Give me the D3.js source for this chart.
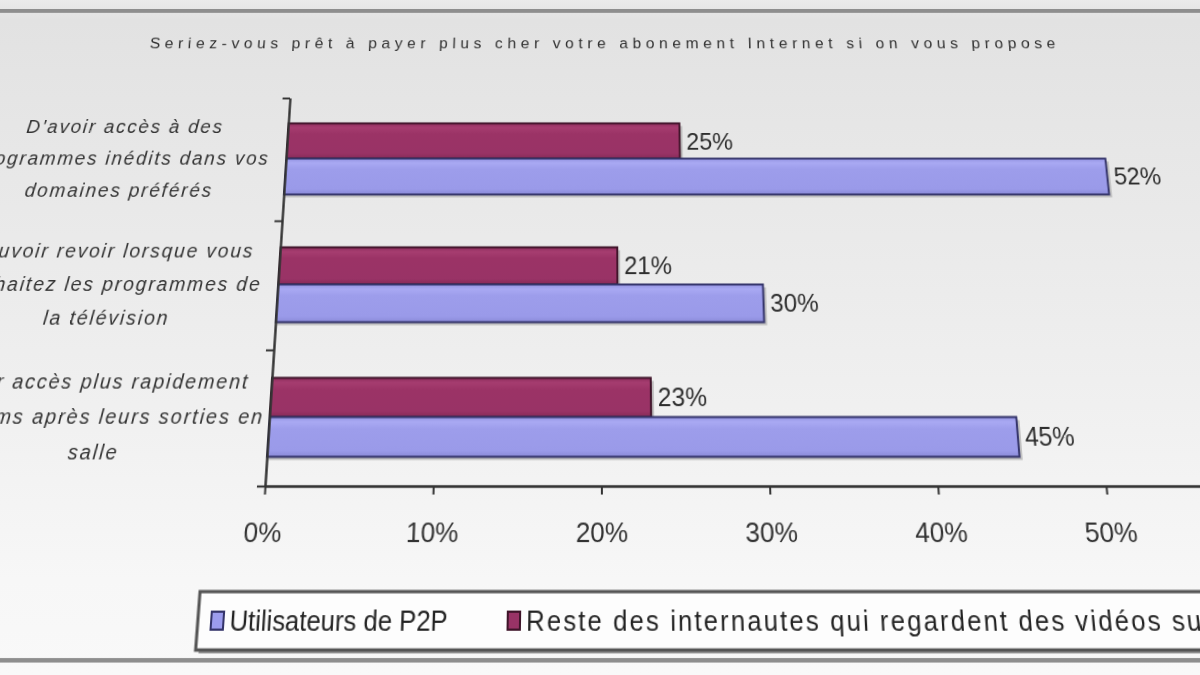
<!DOCTYPE html>
<html>
<head>
<meta charset="utf-8">
<script src="https://cdn.jsdelivr.net/npm/d3@7"></script>
<style>
html,body{margin:0;padding:0;width:1200px;height:675px;overflow:hidden;}
body{background:linear-gradient(to bottom,#ebebeb 0px,#e6e6e6 9px,#e2e2e2 20px,#e7e7e7 150px,#efefef 380px,#f7f7f7 580px,#f9f9f9 675px);}
#chart{position:absolute;left:0;top:0;transform-origin:0 0;overflow:visible;}
text{font-family:"Liberation Sans",Arial,sans-serif;}
</style>
</head>
<body>
<script>
// ---- data ----
const title = "Seriez-vous prêt à payer plus cher votre abonement Internet si on vous propose";
const categories = [
  ["D'avoir accès à des", "programmes inédits dans vos", "domaines préférés"],
  ["Pouvoir revoir lorsque vous", "souhaitez les programmes de", "la télévision"],
  ["Avoir accès plus rapidement", "aux films après leurs sorties en", "salle"]
];
const seriesNames = ["Utilisateurs de P2P", "Reste des internautes qui regardent des vidéos sur Internet"];
const p2pValues = [52, 30, 45];
const resteValues = [25, 21, 23];
const xTicks = [0, 10, 20, 30, 40, 50];
const xMax = 60;

// ---- layout (flat space, then perspective warp like the photographed original) ----
const W = 1200, H = 675;
const svg = d3.select("body").append("svg")
  .attr("id", "chart").attr("width", W).attr("height", H)
  .style("transform", "matrix3d(0.90887,0,0,0,-0.11218,0.87887,0,-0.00018751,0,0,1,0,54.52,14.58,0,1)");

const defs = svg.append("defs");
function grad(id, stops) {
  const g = defs.append("linearGradient").attr("id", id).attr("x1", 0).attr("y1", 0).attr("x2", 0).attr("y2", 1);
  stops.forEach(s => g.append("stop").attr("offset", s[0]).attr("stop-color", s[1]));
}
grad("gP2P", [[0, "#9292e0"], [0.12, "#a9a9f3"], [0.3, "#9d9deb"], [0.85, "#9a9ae9"], [1, "#8a8ad8"]]);
grad("gReste", [[0, "#8c2c5c"], [0.12, "#a63d70"], [0.3, "#9b3366"], [0.85, "#993366"], [1, "#862a58"]]);

const colors = ["url(#gP2P)", "url(#gReste)"];
const strokes = ["#34346a", "#3e1429"];
const legendColors = ["#9c9cee", "#993366"];

// frame lines
svg.append("line").attr("x1", -200).attr("x2", 1500).attr("y1", -4).attr("y2", -4)
  .attr("stroke", "#8e8e8e").attr("stroke-width", 4);
svg.append("line").attr("x1", -200).attr("x2", 1500).attr("y1", 644).attr("y2", 644)
  .attr("stroke", "#8e8e8e").attr("stroke-width", 4);

// title
svg.append("text").attr("x", 603).attr("y", 32).attr("dy", "0.35em")
  .attr("text-anchor", "middle").attr("font-size", 17).attr("fill", "#2f2f2f")
  .attr("textLength", 990).attr("lengthAdjust", "spacing").text(title);

// scales
const x = d3.scaleLinear().domain([0, xMax]).range([265, 265 + 16.82 * xMax]);
const yCat = d3.scaleBand().domain(d3.range(categories.length)).range([93, 486])
  .paddingInner(0.42).paddingOuter(0.21);
const ySub = d3.scaleBand().domain(["reste", "p2p"]).range([0, yCat.bandwidth()]);
const yBound = d3.scaleLinear().domain([0, categories.length]).range([93, 486]);

const bars = [];
categories.forEach((c, i) => {
  bars.push({ i, key: "reste", v: resteValues[i], s: 1 });
  bars.push({ i, key: "p2p", v: p2pValues[i], s: 0 });
});

// bar shadows
svg.append("g").selectAll("rect").data(bars).join("rect")
  .attr("x", d => x(0) + 2).attr("y", d => yCat(d.i) + ySub(d.key) + 3)
  .attr("width", d => x(d.v) - x(0) + 1).attr("height", ySub.bandwidth())
  .attr("fill", "#a9a9a9").attr("opacity", 0.7);

// bars
svg.append("g").selectAll("rect").data(bars).join("rect")
  .attr("x", d => x(0)).attr("y", d => yCat(d.i) + ySub(d.key))
  .attr("width", d => x(d.v) - x(0)).attr("height", ySub.bandwidth())
  .attr("fill", d => colors[d.s]).attr("stroke", d => strokes[d.s]).attr("stroke-width", 2);

// value labels
svg.append("g").selectAll("text").data(bars).join("text")
  .attr("x", d => x(d.v) + 7).attr("y", d => yCat(d.i) + ySub(d.key) + ySub.bandwidth() / 2)
  .attr("dy", "0.36em").attr("font-size", 25).attr("fill", "#2e2e2e")
  .text(d => d.v + "%");

// x axis
const xAxis = svg.append("g").attr("transform", "translate(0,486)")
  .call(d3.axisBottom(x).tickValues(xTicks).tickFormat(d => d + "%").tickSize(8).tickSizeOuter(0).tickPadding(26));
xAxis.select(".domain").attr("stroke", "#333").attr("stroke-width", 2.5);
xAxis.selectAll(".tick line").attr("stroke", "#333").attr("stroke-width", 2);
xAxis.selectAll(".tick text").attr("font-size", 26).attr("fill", "#333")
  .style("font-family", "'Liberation Sans',Arial,sans-serif");

// y axis
const yAxis = svg.append("g").attr("transform", "translate(265,0)")
  .call(d3.axisLeft(yBound).tickValues(d3.range(categories.length + 1)).tickFormat("").tickSize(8).tickSizeOuter(0));
yAxis.select(".domain").attr("stroke", "#333").attr("stroke-width", 2.5);
yAxis.selectAll(".tick line").attr("stroke", "#333").attr("stroke-width", 2);

// category labels
const catG = svg.append("g");
categories.forEach((lines, i) => {
  const cy = yCat(i) + yCat.bandwidth() / 2;
  lines.forEach((ln, k) => {
    catG.append("text").attr("x", 90).attr("y", cy + (k - (lines.length - 1) / 2) * 34)
      .attr("dy", "0.35em").attr("text-anchor", "middle")
      .attr("font-size", 20).attr("font-style", "italic").attr("letter-spacing", 2)
      .attr("fill", "#333").text(ln);
  });
});

// legend
const lg = svg.append("g");
lg.append("rect").attr("x", 211).attr("y", 586).attr("width", 1300).attr("height", 52).attr("fill", "#9a9a9a");
lg.append("rect").attr("x", 208).attr("y", 583).attr("width", 1300).attr("height", 52)
  .attr("fill", "#fdfdfd").attr("stroke", "#555").attr("stroke-width", 3);
const legendX = [227, 516];
seriesNames.forEach((name, s) => {
  lg.append("rect").attr("x", legendX[s] - 6).attr("y", 609 - 8).attr("width", 12).attr("height", 16)
    .attr("fill", legendColors[s]).attr("stroke", strokes[s]).attr("stroke-width", 2);
  lg.append("text").attr("x", legendX[s] + 12).attr("y", 609).attr("dy", "0.36em")
    .attr("font-size", 25).attr("fill", "#222")
    .attr("letter-spacing", s === 1 ? 2.1 : 0).text(name);
});
</script>
</body>
</html>
